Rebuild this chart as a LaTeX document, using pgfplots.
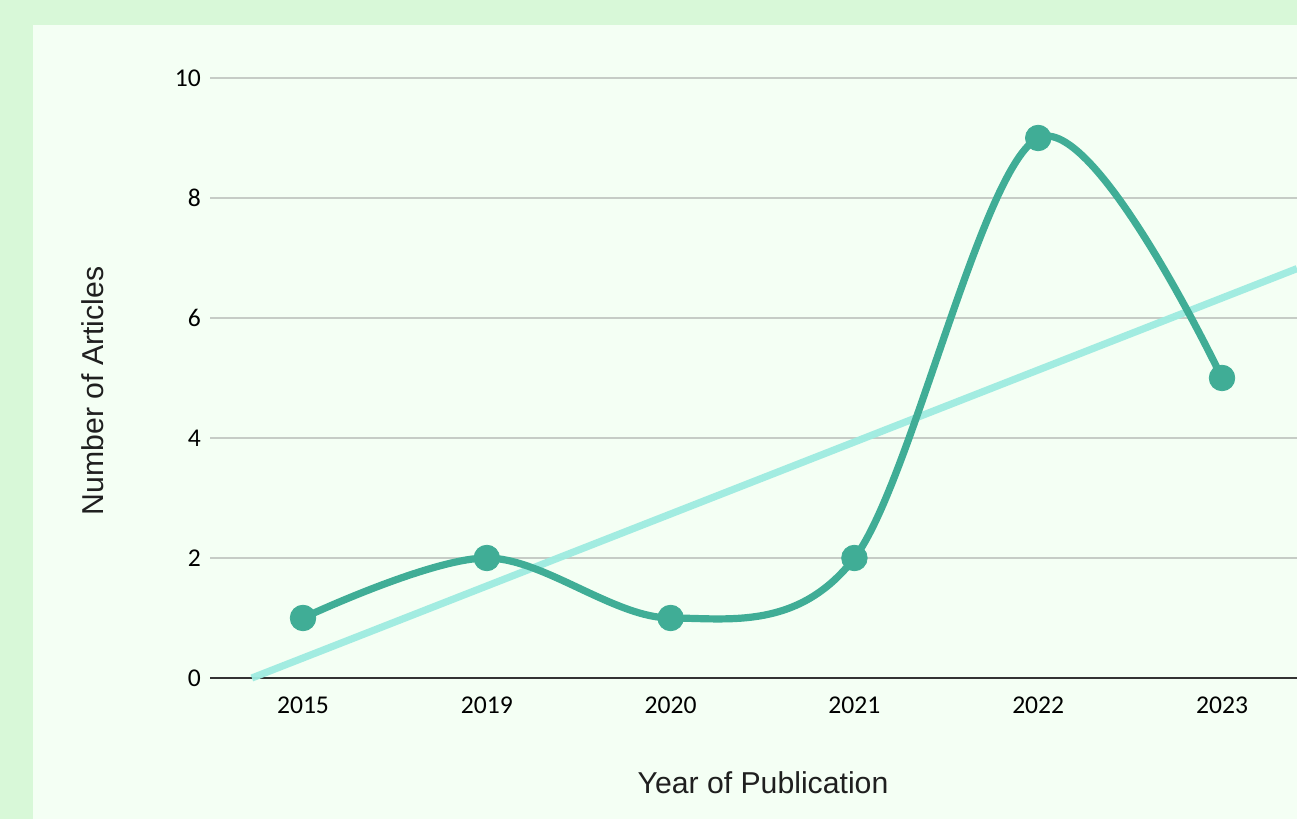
\documentclass[border=0pt]{standalone}
\usepackage{fontspec}
\setmainfont{Liberation Sans}
\newfontfamily\carlito{Carlito}
\usepackage{pgfplots}
\pgfplotsset{compat=1.18}
\definecolor{outerbg}{HTML}{D8F8D8}
\definecolor{panelbg}{HTML}{F4FFF4}
\definecolor{linec}{HTML}{40AD96}
\definecolor{trendc}{HTML}{9EECE0}
\definecolor{gridc}{HTML}{C6CCC6}
\begin{document}
\begin{tikzpicture}
\useasboundingbox (0,0) rectangle (648.5pt,409.5pt);
\fill[outerbg] (0,0) rectangle (648.5pt,409.5pt);
\fill[panelbg] (16.5pt,0) rectangle (648.5pt,397pt);
\begin{axis}[
  at={(105pt,70.5pt)}, anchor=south west,
  scale only axis, width=543.5pt, height=300pt,
  xmin=-0.506, xmax=5.408, ymin=0, ymax=10,
  axis line style={draw=none},
  clip=false,
  xtick={0,1,2,3,4,5},
  xticklabels={2015,2019,2020,2021,2022,2023},
  ytick={0,2,4,6,8,10},
  major tick length=0pt,
  ymajorgrids, grid style={gridc, line width=1pt},
  tick label style={font=\carlito\fontsize{12.8}{15}\selectfont, text=black},
  /pgf/number format/assume math mode=true,
  yticklabel style={xshift=-1pt},
  xticklabel style={yshift=-6pt},
]
\draw[black!80, line width=1pt] (axis cs:-0.506,0) -- (axis cs:5.408,0);
\addplot[trendc, line width=3.6pt, opacity=0.95] coordinates {(-0.278,0) (5.408,6.823)};
\addplot[linec, line width=3.6pt, smooth, tension=0.55, mark=*, mark size=6.4pt, mark options={solid, fill=linec, draw=linec, line width=0.4pt}]
  coordinates {(0,1) (1,2) (2,1) (3,2) (4,9) (5,5)};
\end{axis}
\node[font=\fontsize{15.1}{18}\selectfont, text=black!88] at (381.5pt,18pt) {Year of Publication};
\node[font=\fontsize{15.1}{18}\selectfont, text=black!88, rotate=90] at (46.5pt,214pt) {Number of Articles};
\end{tikzpicture}
\end{document}
